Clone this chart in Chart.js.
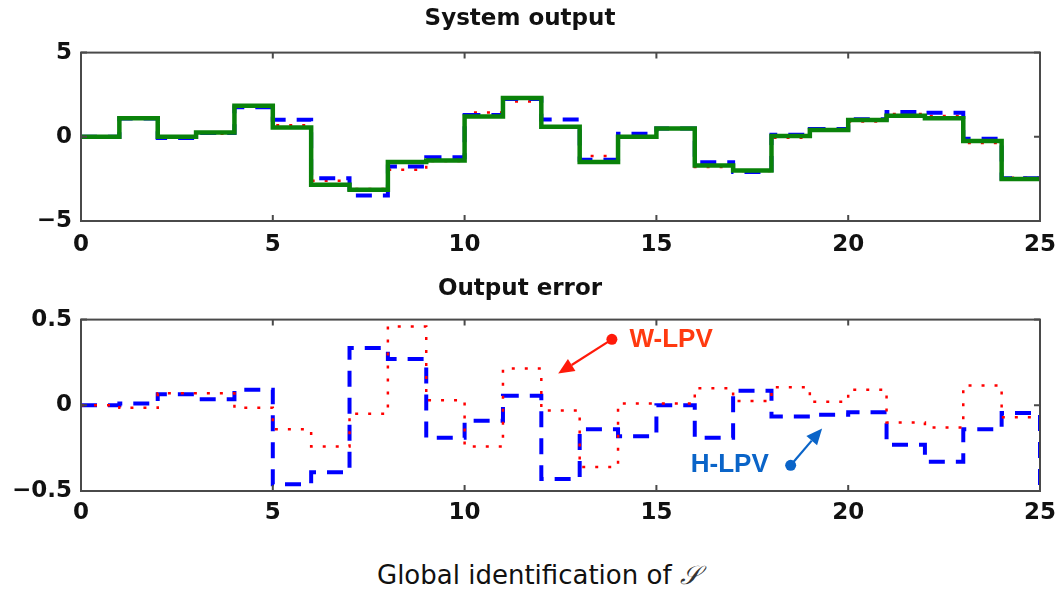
<!DOCTYPE html>
<html>
<head>
<meta charset="utf-8">
<script src="https://cdn.jsdelivr.net/npm/chart.js@4.4.1/dist/chart.umd.min.js"></script>
<style>
  html, body { margin: 0; padding: 0; background: #fff; }
  body { width: 1059px; height: 594px; position: relative; overflow: hidden; }
  canvas { position: absolute; left: 0; }
  #topChart { top: 0; }
  #errChart { top: 270px; }
  #caption {
    position: absolute; left: 377px; top: 560px;
    font: 26px "DejaVu Sans", sans-serif; color: #111; white-space: nowrap;
  }
  #caption .cal { font-family: "DejaVu Serif", serif; font-style: italic; color: #333; }
</style>
</head>
<body>
<canvas id="topChart" width="1059" height="270"></canvas>
<canvas id="errChart" width="1059" height="270"></canvas>
<div id="caption">Global identification of <span class="cal">𝒮</span></div>
<script>
'use strict';

// --- data (sample index k, value held on [k, k+1)) ---
const steps = [0, 1, 2, 3, 4, 5, 6, 7, 8, 9, 10, 11, 12, 13, 14, 15, 16, 17, 18, 19, 20, 21, 22, 23, 24, 25];

const trueOut = [0, 1.1, 0, 0.25, 1.85, 0.55, -2.85, -3.15, -1.5, -1.4, 1.2, 2.3, 0.6, -1.5, 0, 0.5, -1.7, -2.0, 0.05, 0.4, 1.0, 1.25, 1.1, -0.25, -2.5, -2.5];
const hLpvOut = [0, 1.09, -0.07, 0.22, 1.76, 1.01, -2.46, -3.49, -1.77, -1.21, 1.29, 2.25, 1.03, -1.36, 0.18, 0.5, -1.51, -2.09, 0.12, 0.46, 1.04, 1.48, 1.43, -0.11, -2.46, -2.46];
const wLpvOut = [0, 1.12, -0.05, 0.18, 1.87, 0.69, -2.61, -3.1, -1.96, -1.43, 1.44, 2.09, 0.63, -1.14, -0.01, 0.49, -1.8, -2.03, -0.06, 0.38, 0.91, 1.35, 1.23, -0.37, -2.43, -2.43];

const hLpvErr = [0, 0.01, 0.065, 0.035, 0.09, -0.46, -0.39, 0.335, 0.27, -0.19, -0.09, 0.055, -0.43, -0.14, -0.18, 0, -0.19, 0.085, -0.065, -0.055, -0.04, -0.23, -0.33, -0.14, -0.045, -0.6];
const wLpvErr = [0, -0.015, 0.07, 0.07, -0.015, -0.14, -0.24, -0.05, 0.46, 0.03, -0.24, 0.215, -0.03, -0.36, 0.01, 0.01, 0.1, 0.025, 0.105, 0.02, 0.09, -0.1, -0.13, 0.115, -0.07, -0.07];

const xTicks = { min: 0, max: 25, step: 5 };
const topTicks = { min: -5, max: 5, step: 5 };
const errTicks = { min: -0.5, max: 0.5, step: 0.5 };

const AXIS_FONT = { family: 'DejaVu Sans', weight: 'bold', size: 23 };
const pts = arr => steps.map((x, i) => ({ x, y: arr[i] }));
const minus = v => (v < 0 ? '\u2212' + Math.abs(v) : String(v));

// matlab-ish box with inward ticks
const framePlugin = {
  id: 'frame',
  afterDraw(chart) {
    const { ctx, chartArea: a, scales } = chart;
    ctx.save();
    ctx.strokeStyle = '#4a4a4a';
    ctx.lineWidth = 2;
    ctx.strokeRect(a.left, a.top, a.right - a.left, a.bottom - a.top);
    const len = 6;
    ctx.beginPath();
    scales.x.ticks.forEach(t => {
      const px = scales.x.getPixelForValue(t.value);
      ctx.moveTo(px, a.bottom); ctx.lineTo(px, a.bottom - len);
      ctx.moveTo(px, a.top); ctx.lineTo(px, a.top + len);
    });
    scales.y.ticks.forEach(t => {
      const py = scales.y.getPixelForValue(t.value);
      ctx.moveTo(a.left, py); ctx.lineTo(a.left + len, py);
      ctx.moveTo(a.right, py); ctx.lineTo(a.right - len, py);
    });
    ctx.stroke();
    ctx.restore();
  },
};

// arrow + dot + label, positioned in data units
function drawCallout(chart, c) {
  const { ctx, scales } = chart;
  const x0 = scales.x.getPixelForValue(c.from[0]), y0 = scales.y.getPixelForValue(c.from[1]);
  const x1 = scales.x.getPixelForValue(c.to[0]), y1 = scales.y.getPixelForValue(c.to[1]);
  const ang = Math.atan2(y1 - y0, x1 - x0);
  const head = 16, wing = 7;
  ctx.save();
  ctx.strokeStyle = c.lineColor;
  ctx.fillStyle = c.lineColor;
  ctx.lineWidth = 2.2;
  ctx.beginPath();
  ctx.moveTo(x0, y0);
  ctx.lineTo(x1 - head * Math.cos(ang), y1 - head * Math.sin(ang));
  ctx.stroke();
  ctx.beginPath();
  ctx.moveTo(x1, y1);
  ctx.lineTo(x1 - head * Math.cos(ang) + wing * Math.sin(ang), y1 - head * Math.sin(ang) - wing * Math.cos(ang));
  ctx.lineTo(x1 - head * Math.cos(ang) - wing * Math.sin(ang), y1 - head * Math.sin(ang) + wing * Math.cos(ang));
  ctx.closePath();
  ctx.fill();
  ctx.beginPath();
  ctx.arc(x0, y0, 5.5, 0, Math.PI * 2);
  ctx.fill();
  ctx.font = 'bold 26px "Liberation Sans", Arial, sans-serif';
  ctx.fillStyle = c.textColor;
  ctx.textBaseline = 'middle';
  ctx.textAlign = c.align;
  ctx.fillText(c.text, scales.x.getPixelForValue(c.textAt[0]), scales.y.getPixelForValue(c.textAt[1]));
  ctx.restore();
}

const callouts = [
  { text: 'W-LPV', textAt: [14.3, 0.38], align: 'left', from: [13.84, 0.385], to: [12.44, 0.185], lineColor: '#ff1a0a', textColor: '#ff3a10' },
  { text: 'H-LPV', textAt: [17.93, -0.35], align: 'right', from: [18.5, -0.35], to: [19.32, -0.135], lineColor: '#0a64c8', textColor: '#0a64c8' },
];

const calloutPlugin = {
  id: 'callouts',
  afterDraw(chart) { callouts.forEach(c => drawCallout(chart, c)); },
};

function panelOptions(title, yt, titlePadBottom, xLabelPad) {
  return {
    responsive: false,
    animation: false,
    layout: { padding: { left: 0, right: 19, top: 0, bottom: 0 } },
    plugins: {
      legend: { display: false },
      tooltip: { enabled: false },
      title: {
        display: true,
        text: title,
        color: '#111',
        font: { family: 'DejaVu Sans', weight: 'bold', size: 23 },
        padding: { top: 5, bottom: titlePadBottom },
      },
    },
    scales: {
      x: {
        type: 'linear',
        min: xTicks.min, max: xTicks.max,
        grid: { display: false, drawTicks: false },
        border: { display: false },
        ticks: { stepSize: xTicks.step, color: '#111', font: AXIS_FONT, padding: xLabelPad, maxRotation: 0 },
        afterFit: s => { s.height = 49; s.paddingLeft = 0; s.paddingRight = 0; },
      },
      y: {
        min: yt.min, max: yt.max,
        grid: { display: false, drawTicks: false },
        border: { display: false },
        ticks: { stepSize: yt.step, color: '#111', font: AXIS_FONT, padding: 9, callback: minus },
        afterFit: s => { s.width = 81; },
      },
    },
  };
}

// --- System output ---
new Chart(document.getElementById('topChart').getContext('2d'), {
  type: 'line',
  data: {
    datasets: [
      { label: 'True', data: pts(trueOut), stepped: true, borderColor: '#0a820a', borderWidth: 4.5, pointRadius: 0, fill: false },
      { label: 'H-LPV', data: pts(hLpvOut), stepped: true, borderColor: '#0000ff', borderWidth: 4, borderDash: [16, 11], pointRadius: 0, fill: false },
      { label: 'W-LPV', data: pts(wLpvOut), stepped: true, borderColor: '#ff0000', borderWidth: 2.5, borderDash: [3, 10], pointRadius: 0, fill: false },
    ],
  },
  options: panelOptions('System output', topTicks, 20, 10),
  plugins: [framePlugin],
});

// --- Output error ---
new Chart(document.getElementById('errChart').getContext('2d'), {
  type: 'line',
  data: {
    datasets: [
      { label: 'W-LPV', data: pts(wLpvErr), stepped: true, borderColor: '#ff0000', borderWidth: 2.5, borderDash: [3, 10], pointRadius: 0, fill: false },
      { label: 'H-LPV', data: pts(hLpvErr), stepped: true, borderColor: '#0000ff', borderWidth: 4, borderDash: [16, 11], pointRadius: 0, fill: false },
    ],
  },
  options: panelOptions('Output error', errTicks, 17, 8),
  plugins: [framePlugin, calloutPlugin],
});
</script>
</body>
</html>
